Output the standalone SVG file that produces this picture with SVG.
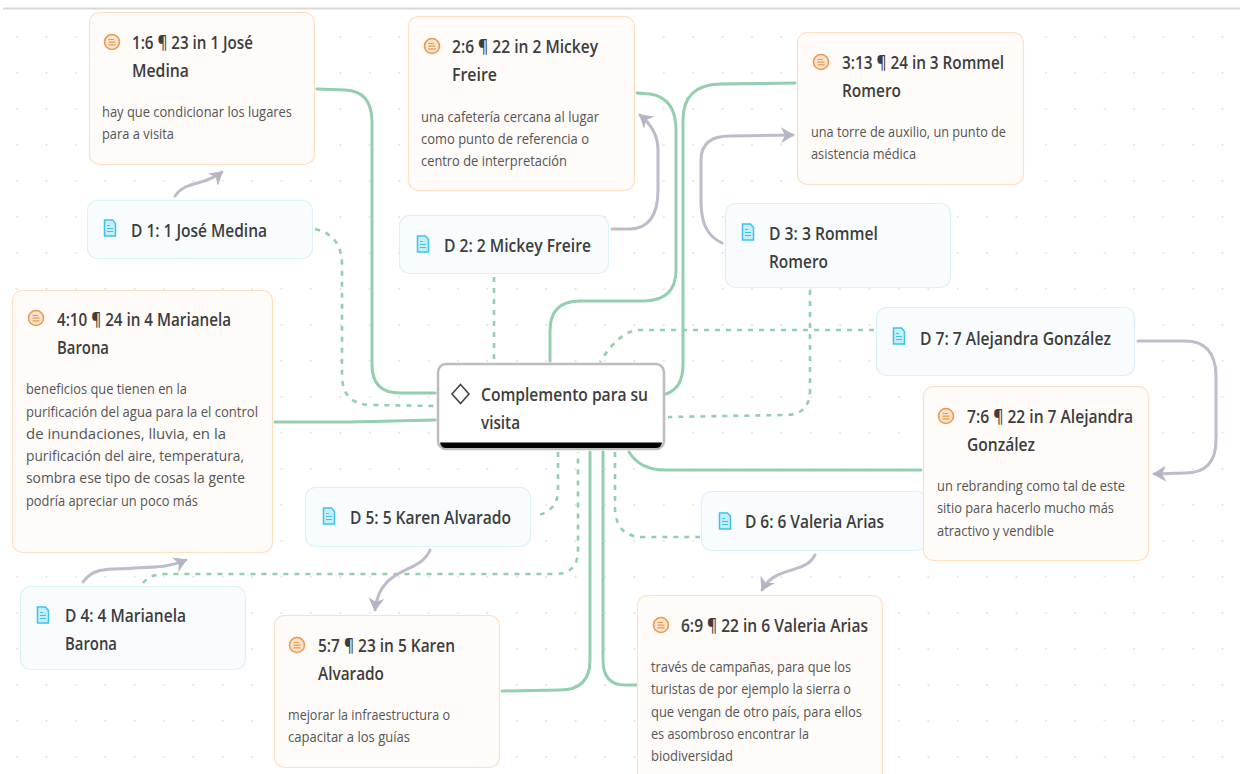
<svg xmlns="http://www.w3.org/2000/svg" width="1240" height="774" viewBox="0 0 1240 774">
<style>
text{font-family:"Open Sans","Noto Sans","Liberation Sans",sans-serif;fill:#3d3d3d}
.t{font-size:18px;font-weight:600}
.b{font-size:15px;fill:#555}
.q{fill:#fefbf9;stroke:#fde0c2;stroke-width:1.2}
.d{fill:#f8fcfe;stroke:#d9f1f8;stroke-width:1.2}
.s,.g,.x{fill:none;stroke-linecap:round;stroke-linejoin:round}
.s{stroke:#93cfae;stroke-width:3}
.x{stroke:#93cfae;stroke-width:2.6;stroke-dasharray:5 6;stroke-linecap:butt}
.g{stroke:#bcbccb;stroke-width:3;marker-end:url(#ah)}
</style>
<defs>
<pattern id="dots" x="0" y="0" width="29.4" height="36" patternUnits="userSpaceOnUse"><circle cx="17" cy="1" r="1.1" fill="#e4e4e4"/></pattern>
<marker id="ah" markerUnits="userSpaceOnUse" markerWidth="16" markerHeight="16" refX="9" refY="6" orient="auto" viewBox="0 0 12 12"><path d="M0 0L10 6L0 12L3 6Z" fill="#b4b4c4"/></marker>
<g id="qi"><circle r="7.5" fill="#fbe3cc" stroke="#e89a52" stroke-width="1.6"/><path d="M-3.5-2.5H2M-3.5 0.2H3.5M-3.5 2.9H3.5" stroke="#e89a52" stroke-width="1.2" fill="none"/></g>
<g id="di"><path d="M-5.5-8H2.5L5.500-4.500V8H-5.500Z" fill="#c5eef8" stroke="#3cc3e6" stroke-width="1.5"/><path d="M-3-2.500H0M-3 .5H3M-3 3.500H3" stroke="#3cc3e6" stroke-width="1.100" fill="none"/></g>
</defs>
<rect width="1240" height="774" fill="#fff"/>
<rect y="36" width="1240" height="738" fill="url(#dots)"/>
<rect x="3" y="7.500" width="1237" height="2" fill="#d9d9d9"/>

<g id="connectors">
<path class="s" d="M317 89L345 90Q372 91 372 122V365Q372 393 400 393H435"/>
<path class="s" d="M637 93L650 94Q676 98 676 130V270Q676 300 645 301H580Q550 301 550 331V361"/>
<path class="s" d="M795 83L720 84Q683 85 683 120V365Q683 388 666 394"/>
<path class="s" d="M275 422H350L435 420"/>
<path class="s" d="M502 691L560 690Q590 690 590 660V452"/>
<path class="s" d="M637 685H625Q603 685 603 660V452"/>
<path class="s" d="M629 452Q640 470 665 470H921"/>
<path class="x" d="M315 229Q342 235 342 265V375Q342 405 372 405L435 406"/>
<path class="x" d="M494 277V360"/>
<path class="x" d="M810 290V390Q810 415 785 415L668 417"/>
<path class="x" d="M874 330H640Q620 330 600 362"/>
<path class="x" d="M558 452V490Q558 512 534 516"/>
<path class="x" d="M143 583Q150 574 165 574H555Q578 574 578 550V452"/>
<path class="x" d="M615 452V510Q617 538 645 537H700"/>
<path class="g" d="M175 196C186 180 205 186 222 172"/>
<path class="g" d="M612 229H630Q658 228 658 190V150Q658 130 640 115"/>
<path class="g" d="M722 243C705 235 701 220 701 200V160Q701 136 730 136L793 135"/>
<path class="g" d="M1138 341H1185Q1215 341 1216 375V440Q1216 473 1185 473L1154 474"/>
<path class="g" d="M83 582C95 565 115 570 135 568C160 567 170 567 186 560"/>
<path class="g" d="M430 550C420 575 380 565 375 610"/>
<path class="g" d="M815 555C805 575 775 565 762 590"/>
</g>

<g id="n1"><rect class="q" x="89.500" y="12.500" width="225" height="152" rx="10"/><use href="#qi" x="112" y="42"/>
<text class="t" x="132" y="49" textLength="121" lengthAdjust="spacingAndGlyphs">1:6 ¶ 23 in 1 José</text>
<text class="t" x="132" y="77" textLength="57" lengthAdjust="spacingAndGlyphs">Medina</text>
<text class="b" x="102" y="117" textLength="190" lengthAdjust="spacingAndGlyphs">hay que condicionar los lugares</text>
<text class="b" x="102" y="139" textLength="72" lengthAdjust="spacingAndGlyphs">para a visita</text></g>

<g id="d1"><rect class="d" x="87.500" y="200.500" width="225" height="58" rx="10"/><use href="#di" x="110" y="228"/>
<text class="t" x="131" y="237" textLength="136" lengthAdjust="spacingAndGlyphs">D 1: 1 José Medina</text></g>

<g id="n2"><rect class="q" x="408.500" y="16.500" width="226" height="174" rx="10"/><use href="#qi" x="432" y="46"/>
<text class="t" x="452" y="53" textLength="146" lengthAdjust="spacingAndGlyphs">2:6 ¶ 22 in 2 Mickey</text>
<text class="t" x="452" y="81" textLength="45" lengthAdjust="spacingAndGlyphs">Freire</text>
<text class="b" x="421" y="122" textLength="178" lengthAdjust="spacingAndGlyphs">una cafetería cercana al lugar</text>
<text class="b" x="421" y="144" textLength="168" lengthAdjust="spacingAndGlyphs">como punto de referencia o</text>
<text class="b" x="421" y="166" textLength="146" lengthAdjust="spacingAndGlyphs">centro de interpretación</text></g>

<g id="d2"><rect class="d" x="399.500" y="215.500" width="209" height="58" rx="10"/><use href="#di" x="423" y="244"/>
<text class="t" x="444" y="252" textLength="147" lengthAdjust="spacingAndGlyphs">D 2: 2 Mickey Freire</text></g>

<g id="n3"><rect class="q" x="797.500" y="32.500" width="226" height="152" rx="10"/><use href="#qi" x="821" y="62"/>
<text class="t" x="842" y="69" textLength="162" lengthAdjust="spacingAndGlyphs">3:13 ¶ 24 in 3 Rommel</text>
<text class="t" x="842" y="97" textLength="59" lengthAdjust="spacingAndGlyphs">Romero</text>
<text class="b" x="811" y="137" textLength="195" lengthAdjust="spacingAndGlyphs">una torre de auxilio, un punto de</text>
<text class="b" x="811" y="159" textLength="105" lengthAdjust="spacingAndGlyphs">asistencia médica</text></g>

<g id="d3"><rect class="d" x="725.500" y="203.500" width="225" height="84" rx="10"/><use href="#di" x="748" y="232"/>
<text class="t" x="769" y="240" textLength="109" lengthAdjust="spacingAndGlyphs">D 3: 3 Rommel</text>
<text class="t" x="769" y="268" textLength="59" lengthAdjust="spacingAndGlyphs">Romero</text></g>

<g id="n4"><rect class="q" x="12.500" y="290.500" width="260" height="262" rx="10"/><use href="#qi" x="36" y="318"/>
<text class="t" x="57" y="326" textLength="174" lengthAdjust="spacingAndGlyphs">4:10 ¶ 24 in 4 Marianela</text>
<text class="t" x="57" y="354" textLength="52" lengthAdjust="spacingAndGlyphs">Barona</text>
<text class="b" x="26" y="394" textLength="161" lengthAdjust="spacingAndGlyphs">beneficios que tienen en la</text>
<text class="b" x="26" y="417" textLength="232" lengthAdjust="spacingAndGlyphs">purificación del agua para la el control</text>
<text class="b" x="26" y="439" textLength="200" lengthAdjust="spacingAndGlyphs">de inundaciones, lluvia, en la</text>
<text class="b" x="26" y="461" textLength="218" lengthAdjust="spacingAndGlyphs">purificación del aire, temperatura,</text>
<text class="b" x="26" y="483" textLength="219" lengthAdjust="spacingAndGlyphs">sombra ese tipo de cosas la gente</text>
<text class="b" x="26" y="506" textLength="172" lengthAdjust="spacingAndGlyphs">podría apreciar un poco más</text></g>

<g id="d7"><rect class="d" x="876.500" y="307.500" width="258" height="68" rx="10"/><use href="#di" x="899" y="336"/>
<text class="t" x="920" y="345" textLength="191" lengthAdjust="spacingAndGlyphs">D 7: 7 Alejandra González</text></g>

<g id="d6"><rect class="d" x="701.500" y="491.500" width="225" height="59" rx="10"/><use href="#di" x="725" y="521"/>
<text class="t" x="745" y="528" textLength="139" lengthAdjust="spacingAndGlyphs">D 6: 6 Valeria Arias</text></g>

<g id="n7"><rect class="q" x="923.500" y="386.500" width="225" height="174" rx="10"/><use href="#qi" x="946" y="416"/>
<text class="t" x="967" y="423" textLength="166" lengthAdjust="spacingAndGlyphs">7:6 ¶ 22 in 7 Alejandra</text>
<text class="t" x="967" y="451" textLength="68" lengthAdjust="spacingAndGlyphs">González</text>
<text class="b" x="937" y="491" textLength="188" lengthAdjust="spacingAndGlyphs">un rebranding como tal de este</text>
<text class="b" x="937" y="513" textLength="177" lengthAdjust="spacingAndGlyphs">sitio para hacerlo mucho más</text>
<text class="b" x="937" y="536" textLength="117" lengthAdjust="spacingAndGlyphs">atractivo y vendible</text></g>

<g id="center"><rect x="438" y="364" width="226" height="85" rx="8" fill="#fff" stroke="#bcbcbc" stroke-width="2.500"/>
<path d="M440 442.500H662Q661 448 656 448H446Q441 448 440 442.500Z" fill="#000"/>
<path d="M460.500 384.500L469 394L460.500 403.500L452 394Z" fill="none" stroke="#444" stroke-width="1.600"/>
<text class="t" x="481" y="401" textLength="167" lengthAdjust="spacingAndGlyphs">Complemento para su</text>
<text class="t" x="481" y="429" textLength="39" lengthAdjust="spacingAndGlyphs">visita</text></g>

<g id="d5"><rect class="d" x="305.500" y="487.500" width="225" height="59" rx="10"/><use href="#di" x="329" y="516"/>
<text class="t" x="350" y="524" textLength="161" lengthAdjust="spacingAndGlyphs">D 5: 5 Karen Alvarado</text></g>

<g id="d4"><rect class="d" x="20.500" y="586.500" width="225" height="83" rx="10"/><use href="#di" x="43" y="615"/>
<text class="t" x="65" y="622" textLength="121" lengthAdjust="spacingAndGlyphs">D 4: 4 Marianela</text>
<text class="t" x="65" y="650" textLength="52" lengthAdjust="spacingAndGlyphs">Barona</text></g>

<g id="n5"><rect class="q" x="274.500" y="615.500" width="225" height="152" rx="10"/><use href="#qi" x="297" y="645"/>
<text class="t" x="318" y="652" textLength="137" lengthAdjust="spacingAndGlyphs">5:7 ¶ 23 in 5 Karen</text>
<text class="t" x="318" y="680" textLength="66" lengthAdjust="spacingAndGlyphs">Alvarado</text>
<text class="b" x="288" y="720" textLength="162" lengthAdjust="spacingAndGlyphs">mejorar la infraestructura o</text>
<text class="b" x="288" y="742" textLength="122" lengthAdjust="spacingAndGlyphs">capacitar a los guías</text></g>

<g id="n6"><rect class="q" x="637.500" y="595.500" width="245" height="190" rx="10"/><use href="#qi" x="661" y="625"/>
<text class="t" x="681" y="632" textLength="187" lengthAdjust="spacingAndGlyphs">6:9 ¶ 22 in 6 Valeria Arias</text>
<text class="b" x="651" y="672" textLength="200" lengthAdjust="spacingAndGlyphs">través de campañas, para que los</text>
<text class="b" x="651" y="694" textLength="200" lengthAdjust="spacingAndGlyphs">turistas de por ejemplo la sierra o</text>
<text class="b" x="651" y="717" textLength="211" lengthAdjust="spacingAndGlyphs">que vengan de otro país, para ellos</text>
<text class="b" x="651" y="739" textLength="158" lengthAdjust="spacingAndGlyphs">es asombroso encontrar la</text>
<text class="b" x="651" y="761" textLength="82" lengthAdjust="spacingAndGlyphs">biodiversidad</text></g>
</svg>
